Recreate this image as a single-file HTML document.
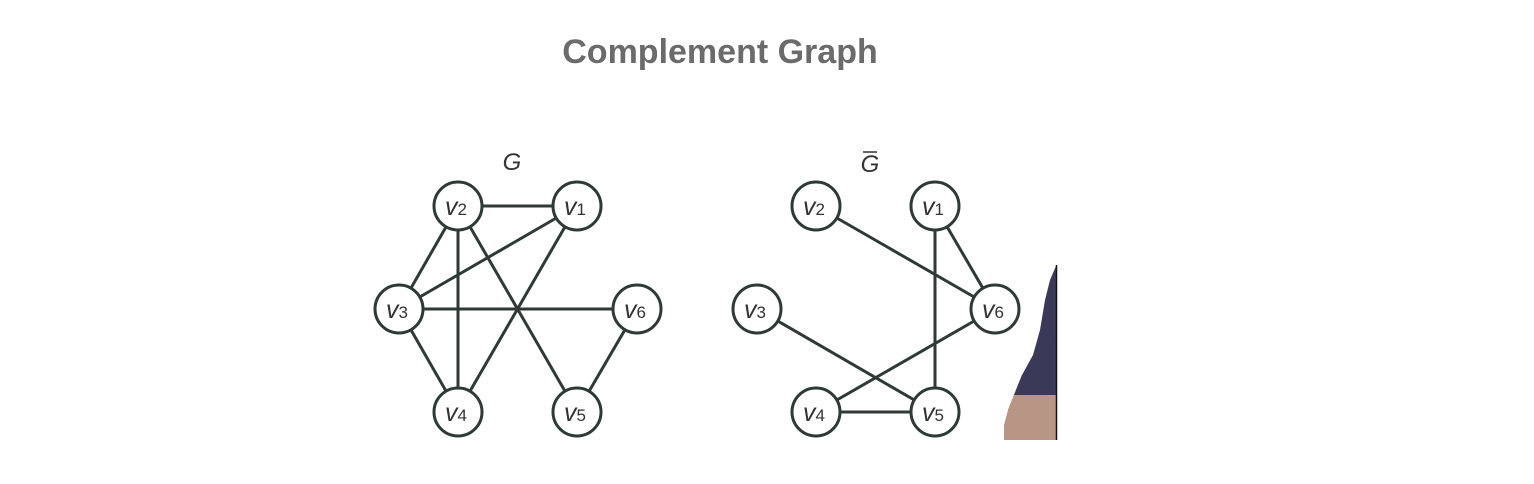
<!DOCTYPE html>
<html><head><style>
html,body{margin:0;padding:0;background:#fff;width:1534px;height:484px;overflow:hidden}
</style></head><body>
<svg width="1534" height="484" xmlns="http://www.w3.org/2000/svg">
<text x="720" y="63" text-anchor="middle" font-family="Liberation Sans, sans-serif" font-weight="bold" font-size="34" fill="#6b6b6b">Complement Graph</text>
<g font-family="Liberation Sans, sans-serif" font-style="italic" font-size="24" fill="#333" text-anchor="middle">
<text x="512" y="170">G</text>
<text x="870" y="172">G</text>
</g>
<line x1="863" y1="152" x2="877" y2="152" stroke="#333" stroke-width="1.5"/>
<g stroke="#2f3a35" stroke-width="3">
<line x1="458" y1="206" x2="577" y2="206"/>
<line x1="458" y1="206" x2="399" y2="309"/>
<line x1="458" y1="206" x2="458" y2="412"/>
<line x1="458" y1="206" x2="577" y2="412"/>
<line x1="577" y1="206" x2="399" y2="309"/>
<line x1="577" y1="206" x2="458" y2="412"/>
<line x1="399" y1="309" x2="637" y2="309"/>
<line x1="399" y1="309" x2="458" y2="412"/>
<line x1="637" y1="309" x2="577" y2="412"/>
<line x1="816" y1="206" x2="995" y2="309"/>
<line x1="935" y1="206" x2="995" y2="309"/>
<line x1="935" y1="206" x2="935" y2="412"/>
<line x1="757" y1="309" x2="935" y2="412"/>
<line x1="816" y1="412" x2="935" y2="412"/>
<line x1="816" y1="412" x2="995" y2="309"/>
</g>
<g stroke="#2f3a35" stroke-width="3" fill="#fff">
<circle cx="458" cy="206" r="24"/><circle cx="577" cy="206" r="24"/>
<circle cx="399" cy="309" r="24"/><circle cx="637" cy="309" r="24"/>
<circle cx="458" cy="412" r="24"/><circle cx="577" cy="412" r="24"/>
<circle cx="816" cy="206" r="24"/><circle cx="935" cy="206" r="24"/>
<circle cx="757" cy="309" r="24"/><circle cx="995" cy="309" r="24"/>
<circle cx="816" cy="412" r="24"/><circle cx="935" cy="412" r="24"/>
</g>
<g font-family="Liberation Sans, sans-serif" font-style="italic" font-size="25" fill="#333" text-anchor="middle">
<text x="456" y="215">v<tspan font-style="normal" font-size="17">2</tspan></text>
<text x="575" y="215">v<tspan font-style="normal" font-size="17">1</tspan></text>
<text x="397" y="318">v<tspan font-style="normal" font-size="17">3</tspan></text>
<text x="635" y="318">v<tspan font-style="normal" font-size="17">6</tspan></text>
<text x="456" y="421">v<tspan font-style="normal" font-size="17">4</tspan></text>
<text x="575" y="421">v<tspan font-style="normal" font-size="17">5</tspan></text>
<text x="814" y="215">v<tspan font-style="normal" font-size="17">2</tspan></text>
<text x="933" y="215">v<tspan font-style="normal" font-size="17">1</tspan></text>
<text x="755" y="318">v<tspan font-style="normal" font-size="17">3</tspan></text>
<text x="993" y="318">v<tspan font-style="normal" font-size="17">6</tspan></text>
<text x="814" y="421">v<tspan font-style="normal" font-size="17">4</tspan></text>
<text x="933" y="421">v<tspan font-style="normal" font-size="17">5</tspan></text>
</g>
<path d="M1056 266 L1050 280 L1045 300 L1040 330 L1033 355 L1022 375 L1014 395 L1008 410 L1056 400 Z" fill="#3a3a58"/>
<path d="M1008 410 L1014 395 L1056 388 L1056 440 L1004 440 L1004 425 Z" fill="#b89585"/>
<path d="M1014 395 L1022 375 L1040 360 L1056 340 L1056 395 Z" fill="#3a3a58"/>
<line x1="1056.5" y1="265" x2="1056.5" y2="440" stroke="#111" stroke-width="1.5"/>
</svg>
</body></html>
